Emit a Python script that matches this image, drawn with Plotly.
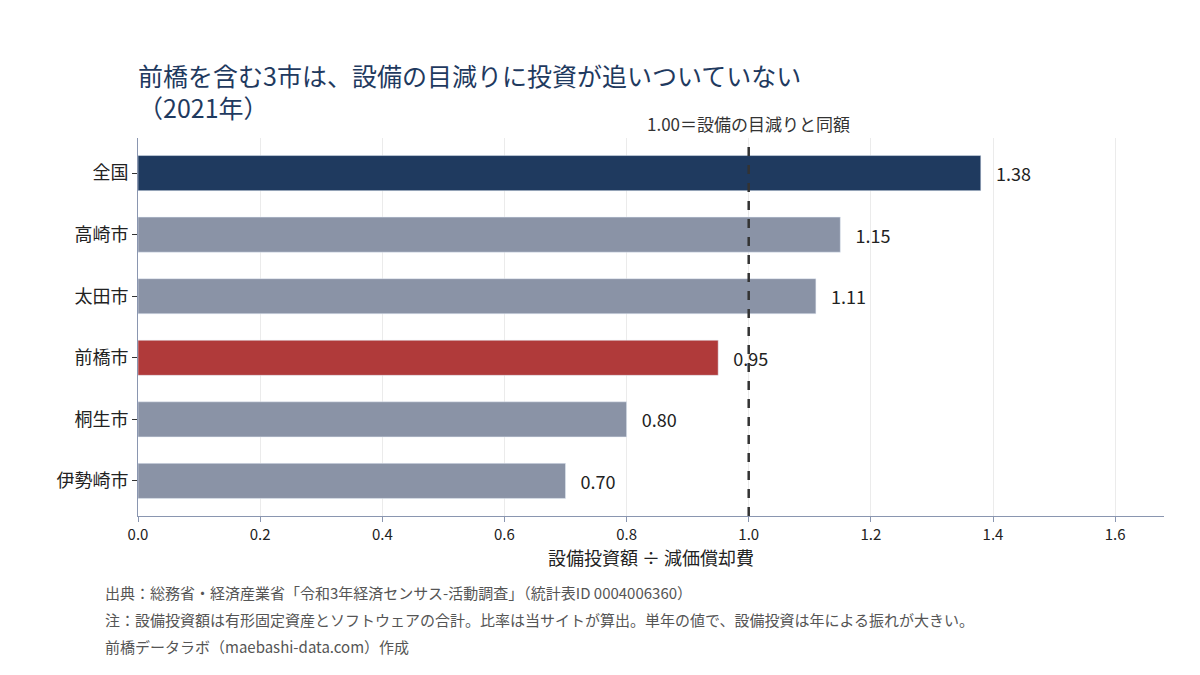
import plotly.graph_objects as go

# データ（2021年）
cities = ["全国", "高崎市", "太田市", "前橋市", "桐生市", "伊勢崎市"]
ratios = [1.38, 1.15, 1.11, 0.95, 0.80, 0.70]
bar_colors = ["#1f3a5f", "#8a93a6", "#8a93a6", "#b03a3a", "#8a93a6", "#8a93a6"]
x_ticks = [0.0, 0.2, 0.4, 0.6, 0.8, 1.0, 1.2, 1.4, 1.6]

FONT = "Noto Sans CJK JP, Noto Sans, sans-serif"

# ページ余白(8px)を考慮した配置（図の座標, px）
L, R, T, B = 130, 44, 130, 167
W, H = 1200, 675
plot_w = W - L - R
plot_h = H - T - B

fig = go.Figure(go.Bar(
    x=ratios,
    y=cities,
    orientation="h",
    marker=dict(color=bar_colors),
    text=[f"   {v:.2f}" for v in ratios],
    textposition="outside",
    textfont=dict(size=18, color="#222222"),
    cliponaxis=False,
))

# 基準線 1.00
fig.add_vline(x=1.0, line=dict(color="#333333", width=2.5, dash="dash"))
fig.add_annotation(
    x=1.0, y=1.0, xref="x", yref="paper",
    text="1.00＝設備の目減りと同額",
    showarrow=False, yanchor="bottom", yshift=0,
    font=dict(size=17, color="#333333"),
)

footnotes = [
    "出典：総務省・経済産業省「令和3年経済センサス-活動調査」（統計表ID 0004006360）",
    "注：設備投資額は有形固定資産とソフトウェアの合計。比率は当サイトが算出。単年の値で、設備投資は年による振れが大きい。",
    "前橋データラボ（maebashi-data.com）作成",
]
for i, t in enumerate(footnotes):
    py = 584 + 27 * i
    fig.add_annotation(
        x=(95 - L) / plot_w, y=(H - B - py) / plot_h, xref="paper", yref="paper",
        text=t, showarrow=False, xanchor="left", yanchor="middle",
        font=dict(size=15, color="#555555"),
    )

fig.update_layout(
    width=W, height=H,
    paper_bgcolor="white", plot_bgcolor="white",
    font=dict(family=FONT, color="#222222"),
    title=dict(
        text="前橋を含む3市は、設備の目減りに投資が追いついていない<br>（2021年）",
        x=L / W, xanchor="left", y=0.885, yanchor="top",
        font=dict(size=25, color="#1f3a5f"),
    ),
    margin=dict(l=L, r=R, t=T, b=B),
    bargap=0.43,
    showlegend=False,
    xaxis=dict(
        range=[0, 1.68], tickvals=x_ticks, ticktext=[f"{v:.1f}" for v in x_ticks],
        showgrid=True, gridcolor="#ebebeb", zeroline=False,
        showline=True, linecolor="#8a96b0", linewidth=1,
        ticks="outside", tickcolor="#8a96b0", ticklen=5,
        tickfont=dict(size=15, color="#222222"),
        title=dict(text="設備投資額 ÷ 減価償却費", font=dict(size=18, color="#222222"), standoff=6),
    ),
    yaxis=dict(
        range=[5.57, -0.57],
        showgrid=False, showline=True, linecolor="#8a96b0", linewidth=1,
        ticks="outside", tickcolor="#333333", ticklen=5,
        tickfont=dict(size=18, color="#222222"),
    ),
)

fig.write_html("out.html")
